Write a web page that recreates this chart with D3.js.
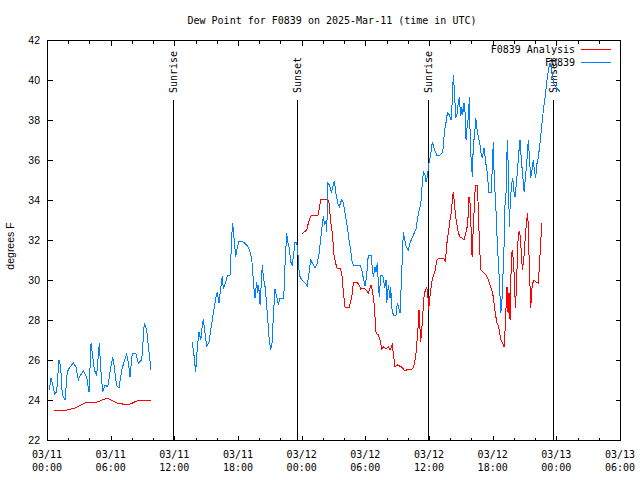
<!DOCTYPE html>
<html>
<head>
<meta charset="utf-8">
<script src="https://cdn.jsdelivr.net/npm/d3@7"></script>
<style>
  html, body { margin: 0; padding: 0; background: #fff; }
  svg { display: block; }
  .mono { font-family: "DejaVu Sans Mono", monospace; font-size: 10px; fill: #000; }
  .sans { font-family: "Liberation Sans", Arial, sans-serif; font-size: 10.5px; fill: #000; }
</style>
</head>
<body>
<svg id="chart" width="640" height="480"></svg>
<script>
// ---- Data (hours since 2025-03-11 00:00 UTC, dew point in °F) ----
const title = "Dew Point for F0839 on 2025-Mar-11 (time in UTC)";
const yLabel = "degrees F";
const seriesNames = ["F0839 Analysis", "F0839"];
const seriesColors = ["#ff0000", "#0080ff"];
const yTicks = [22, 24, 26, 28, 30, 32, 34, 36, 38, 40, 42];
const sunEvents = [
  ["Sunrise", 11.87], ["Sunset", 23.56], ["Sunrise", 35.9], ["Sunset", 47.7]
];

const observedSeg1 = [
  [0.22,24.5],[0.38,25.1],[0.54,24.75],[0.73,24.3],[0.91,24.4],[1.13,26.0],[1.29,25.65],
  [1.44,24.25],[1.70,24.0],[1.91,25.4],[2.10,25.6],[2.48,25.85],[2.73,25.65],[2.95,25.0],
  [3.11,25.2],[3.42,25.45],[3.74,25.15],[3.96,24.4],[4.15,26.85],[4.27,26.35],[4.46,25.5],
  [4.68,25.25],[4.93,26.85],[5.06,25.6],[5.25,24.4],[5.47,24.75],[5.72,24.65],[5.94,25.4],
  [6.19,26.15],[6.34,25.65],[6.57,24.7],[6.79,24.6],[7.04,25.5],[7.26,25.9],[7.51,26.3],
  [7.66,25.9],[7.82,25.15],[8.04,26.35],[8.36,26.35],[8.61,25.85],[8.93,26.0],[9.17,27.85],
  [9.40,27.5],[9.61,26.4],[9.80,25.5]
];
const observedSeg2 = [
  [13.69,26.9],[13.85,26.25],[14.01,25.4],[14.17,26.65],[14.33,27.4],[14.49,27.0],[14.64,27.75],
  [14.73,28.05],[14.89,27.35],[15.05,26.7],[15.27,26.9],[15.43,27.5],[15.62,28.15],[15.77,28.65],
  [15.93,29.15],[16.05,29.4],[16.21,28.85],[16.37,29.6],[16.52,30.2],[16.62,29.55],[16.84,29.9],
  [16.99,30.2],[17.25,30.25],[17.31,30.9],[17.41,32.2],[17.50,32.85],[17.62,32.1],[17.79,31.15],
  [17.94,31.65],[18.10,31.95],[18.50,31.9],[18.82,31.75],[19.04,31.55],[19.29,31.1],[19.39,30.35],
  [19.51,29.55],[19.60,29.1],[19.76,29.9],[19.86,29.35],[19.95,29.75],[20.08,28.75],[20.17,29.6],
  [20.29,30.75],[20.39,30.15],[20.57,29.6],[20.76,28.35],[20.92,27.15],[21.08,26.5],[21.23,26.9],
  [21.33,28.25],[21.49,29.55],[21.65,29.15],[21.80,28.75],[21.96,29.1],[22.27,29.1],[22.37,29.65],
  [22.43,30.75],[22.59,32.35],[22.69,31.9],[22.84,31.6],[22.97,30.9],[23.12,30.75],[23.21,31.15],
  [23.37,31.9],[23.53,31.9],[23.68,31.1],[23.78,30.25],[24.01,30.0],[24.32,29.85],[24.53,29.7],
  [24.69,30.35],[24.85,31.0],[25.00,30.85],[25.26,30.6],[25.48,30.85],[25.66,31.4],[25.89,32.5],
  [26.04,33.2],[26.17,32.75],[26.27,32.95],[26.36,32.4],[26.48,34.85],[26.61,34.75],[26.80,34.4],
  [26.93,34.65],[27.08,34.95],[27.24,34.3],[27.40,33.85],[27.55,33.65],[27.68,33.9],[27.78,34.0],
  [27.93,33.85],[28.09,33.35],[28.30,32.65],[28.49,31.9],[28.62,31.5],[28.77,30.85],[28.87,30.75],
  [29.50,30.75],[29.66,30.5],[29.81,30.1],[29.97,29.7],[30.13,30.25],[30.28,31.25],[30.54,31.25],
  [30.66,30.6],[30.76,30.15],[30.91,30.65],[31.01,30.4],[31.13,30.85],[31.23,29.75],[31.32,29.15],
  [31.45,30.25],[31.64,30.25],[31.83,29.6],[31.95,30.0],[32.02,28.85],[32.17,29.75],[32.33,29.1],
  [32.39,29.65],[32.49,28.6],[32.64,28.25],[32.89,28.25],[33.02,28.85],[33.15,28.6],[33.27,28.35],
  [33.43,30.35],[33.58,32.4],[33.68,32.1],[33.84,31.7],[34.05,31.5],[34.21,31.85],[34.52,32.25],
  [34.78,32.55],[35.00,33.35],[35.22,33.75],[35.32,34.5],[35.47,35.4],[35.63,35.25],[35.72,34.9],
  [35.84,35.15],[36.00,35.85],[36.16,36.25],[36.31,36.9],[36.47,36.6],[36.73,36.25],[37.04,36.25],
  [37.30,36.4],[37.45,37.4],[37.61,37.9],[37.73,38.35],[37.92,38.25],[38.08,38.0],[38.20,39.0],
  [38.29,40.25],[38.39,39.5],[38.52,38.1],[38.67,38.35],[38.77,39.0],[38.86,39.1],[38.99,38.2],
  [39.09,38.65],[39.18,38.25],[39.30,38.85],[39.40,38.35],[39.49,37.0],[39.61,37.75],[39.71,38.1],
  [39.80,39.15],[39.90,36.75],[39.99,35.85],[40.09,35.15],[40.18,36.9],[40.28,37.1],[40.41,38.1],
  [40.50,37.65],[40.65,37.15],[40.81,36.75],[40.90,36.35],[41.03,36.1],[41.19,36.6],[41.35,35.85],
  [41.50,35.35],[41.63,34.4],[41.88,34.4],[41.97,35.75],[42.06,36.9],[42.16,34.85],[42.29,33.85],
  [42.38,32.5],[42.51,31.15],[42.63,30.0],[42.76,28.35],[42.86,28.75],[42.95,29.9],[43.07,31.65],
  [43.17,33.9],[43.26,34.35],[43.38,37.0],[43.48,35.5],[43.57,32.65],[43.67,34.0],[43.80,34.85],
  [43.89,35.1],[44.01,34.4],[44.11,34.15],[44.20,34.65],[44.33,35.4],[44.46,36.35],[44.58,37.0],
  [44.70,36.0],[44.83,35.25],[44.96,34.4],[45.05,34.9],[45.21,35.85],[45.36,37.0],[45.46,36.15],
  [45.59,35.1],[45.71,35.5],[45.83,36.0],[45.93,35.5],[46.06,35.1],[46.15,35.75],[46.31,36.15],
  [46.47,36.9],[46.63,37.75],[46.78,38.5],[46.94,39.15],[47.10,39.9],[47.25,40.5],[47.41,40.85],
  [47.57,40.5],[47.79,39.75],[48.36,39.4]
];
const analysisSeg1 = [
  [0.66,23.5],[1.91,23.5],[2.64,23.6],[3.74,23.9],[4.52,23.85],[5.68,24.1],[6.57,23.85],
  [7.66,23.75],[8.45,23.95],[9.24,24.0],[9.77,24.0]
];
const analysisSeg2 = [
  [24.06,32.3],[24.22,32.4],[24.48,32.5],[24.63,32.85],[24.85,33.2],[25.57,33.25],[25.80,34.05],
  [26.46,34.05],[26.58,33.85],[26.74,32.9],[26.89,32.35],[27.05,31.25],[27.21,30.85],[27.30,30.6],
  [27.68,30.55],[27.83,30.1],[27.93,29.35],[28.09,28.65],[28.49,28.65],[28.72,29.15],[28.87,29.85],
  [29.19,29.9],[29.41,29.75],[29.57,29.55],[29.81,29.6],[30.07,29.5],[30.28,29.35],[30.44,29.6],
  [30.54,29.75],[30.66,29.5],[30.82,28.85],[31.01,27.35],[31.23,27.25],[31.39,27.0],[31.55,26.55],
  [31.70,26.65],[31.95,26.55],[32.17,26.65],[32.33,26.5],[32.54,26.75],[32.64,26.35],[32.80,25.65],
  [33.02,25.75],[33.43,25.65],[33.74,25.45],[34.05,25.55],[34.28,25.5],[34.52,25.6],[34.68,26.0],
  [34.78,26.35],[34.94,27.4],[35.06,28.5],[35.22,26.9],[35.37,27.9],[35.47,28.75],[35.56,29.35],
  [35.69,29.5],[35.78,29.65],[35.88,29.35],[35.97,28.5],[36.10,29.25],[36.26,29.9],[36.41,30.2],
  [36.57,30.45],[36.73,31.0],[36.95,31.1],[37.30,31.1],[37.42,31.05],[37.54,30.9],[37.67,31.75],
  [37.76,32.15],[37.89,32.6],[37.98,33.0],[38.11,33.4],[38.20,34.0],[38.29,34.4],[38.39,33.85],
  [38.52,33.15],[38.64,32.75],[38.77,32.35],[38.93,32.15],[39.11,32.1],[39.30,32.0],[39.46,32.35],
  [39.56,32.5],[39.68,33.15],[39.77,34.15],[39.87,33.85],[39.96,32.65],[40.06,31.15],[40.15,32.35],
  [40.27,33.65],[40.37,34.75],[40.56,34.75],[40.65,33.5],[40.74,32.0],[40.88,30.5],[41.12,30.4],
  [41.38,30.25],[41.59,30.0],[41.82,29.65],[42.00,29.35],[42.13,28.85],[42.25,28.35],[42.38,27.9],
  [42.57,27.65],[42.69,27.25],[42.79,27.0],[42.95,26.85],[43.07,26.65],[43.17,27.5],[43.26,28.65],
  [43.35,29.65],[43.45,28.35],[43.54,29.35],[43.64,28.0],[43.73,30.35],[43.83,31.5],[43.95,31.0],
  [44.04,30.15],[44.14,28.6],[44.23,29.5],[44.33,31.15],[44.42,32.35],[44.52,32.4],[44.61,32.15],
  [44.70,31.35],[44.80,30.5],[44.89,30.85],[44.99,31.4],[45.08,32.25],[45.21,33.0],[45.31,33.35],
  [45.40,31.65],[45.50,30.0],[45.59,28.6],[45.68,29.5],[45.78,29.85],[45.90,30.0],[46.09,29.9],
  [46.28,29.85],[46.37,30.4],[46.47,31.35],[46.63,32.85]
];

// ---- Layout ----
const svg = d3.select("#chart");
const L = 47, R = 620, T = 40, B = 440;
const start = new Date(Date.UTC(2025, 2, 11, 0, 0));
const end = new Date(Date.UTC(2025, 2, 13, 6, 0));
const toDate = h => new Date(start.getTime() + h * 3600000);

const x = d3.scaleUtc().domain([start, end]).range([L, R]);
const y = d3.scaleLinear().domain([22, 42]).range([B, T]);

const crisp = v => Math.round(v) + 0.5;

// Frame
svg.append("rect")
  .attr("x", L + 0.5).attr("y", T + 0.5)
  .attr("width", R - L).attr("height", B - T)
  .attr("fill", "none").attr("stroke", "#000").attr("stroke-width", 1)
  .attr("shape-rendering", "crispEdges");

// X ticks (every 2 h, major every 6 h), bottom & top mirror
const xTicks = x.ticks(d3.utcHour.every(2));
const tickG = svg.append("g").attr("stroke", "#000").attr("shape-rendering", "crispEdges");
xTicks.forEach(t => {
  const major = t.getUTCHours() % 6 === 0;
  const len = major ? 5 : 3;
  const px = crisp(x(t));
  tickG.append("line").attr("x1", px).attr("x2", px).attr("y1", B + 0.5).attr("y2", B + 0.5 - len);
  tickG.append("line").attr("x1", px).attr("x2", px).attr("y1", T + 0.5).attr("y2", T + 0.5 + len);
});
// Y ticks, left & right mirror
yTicks.forEach(v => {
  const py = crisp(y(v));
  tickG.append("line").attr("x1", L + 0.5).attr("x2", L + 0.5 + 5).attr("y1", py).attr("y2", py);
  tickG.append("line").attr("x1", R + 0.5).attr("x2", R + 0.5 - 5).attr("y1", py).attr("y2", py);
});

// X tick labels
const fmtD = d3.utcFormat("%m/%d"), fmtH = d3.utcFormat("%H:%M");
x.ticks(d3.utcHour.every(6)).forEach(t => {
  const g = svg.append("text").attr("class", "mono").attr("text-anchor", "middle");
  g.append("tspan").attr("x", x(t)).attr("y", 458).text(fmtD(t));
  g.append("tspan").attr("x", x(t)).attr("y", 471).text(fmtH(t));
});

// Y tick labels
yTicks.forEach(v => {
  svg.append("text").attr("class", "sans").attr("text-anchor", "end")
    .attr("x", 40).attr("y", y(v) + 4).text(v);
});

// Y axis label
svg.append("text").attr("class", "sans").attr("text-anchor", "middle")
  .attr("transform", "translate(14,246) rotate(-90)").text(yLabel);

// Title
svg.append("text").attr("class", "mono").attr("text-anchor", "middle")
  .attr("x", 332).attr("y", 24).text(title);

// Sunrise / sunset lines
sunEvents.forEach(([label, h]) => {
  const px = crisp(x(toDate(h)));
  svg.append("line").attr("x1", px).attr("x2", px).attr("y1", 100).attr("y2", B)
    .attr("stroke", "#000").attr("shape-rendering", "crispEdges");
  svg.append("text").attr("class", "mono")
    .attr("transform", `translate(${px + 3.5},93) rotate(-90)`).text(label);
});

// Data lines
const line = d3.line().x(d => x(toDate(d[0]))).y(d => y(d[1]));
const drawSeries = (segs, color) => segs.forEach(seg => {
  svg.append("path").attr("d", line(seg)).attr("fill", "none")
    .attr("stroke", color).attr("stroke-width", 1)
    .attr("shape-rendering", "crispEdges");
});
drawSeries([analysisSeg1, analysisSeg2], seriesColors[0]);
drawSeries([observedSeg1, observedSeg2], seriesColors[1]);

// Legend
seriesNames.forEach((name, i) => {
  const ly = 49 + i * 13;
  svg.append("text").attr("class", "mono").attr("text-anchor", "end")
    .attr("x", 575).attr("y", ly + 4).text(name);
  svg.append("line").attr("x1", 581).attr("x2", 611).attr("y1", ly + 0.5).attr("y2", ly + 0.5)
    .attr("stroke", seriesColors[i]).attr("stroke-width", 1).attr("shape-rendering", "crispEdges");
});
</script>
</body>
</html>
